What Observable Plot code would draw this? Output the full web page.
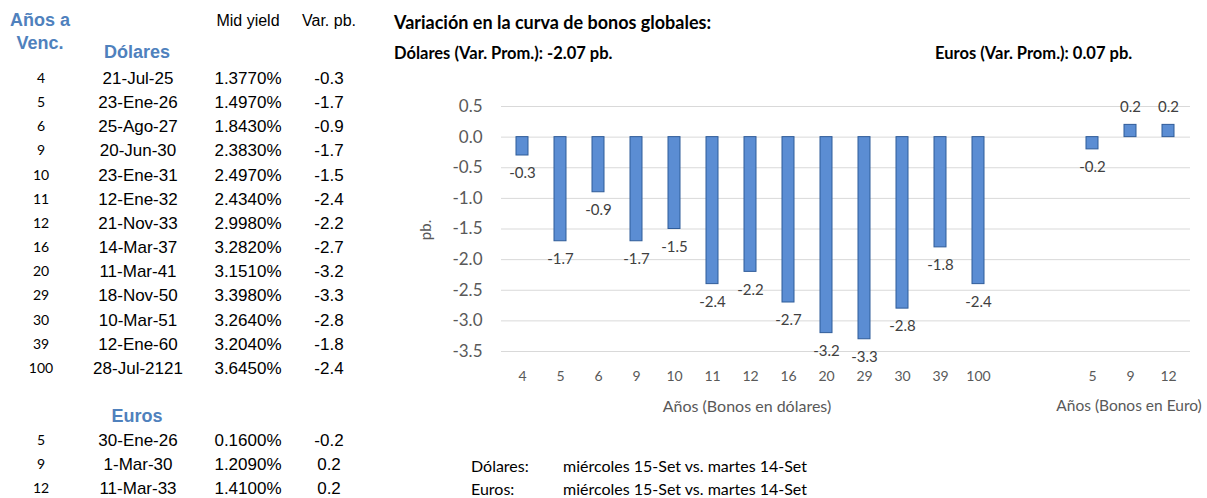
<!DOCTYPE html>
<html>
<head>
<meta charset="utf-8">
<script src="https://cdn.jsdelivr.net/npm/d3@7"></script>
<script src="https://cdn.jsdelivr.net/npm/@observablehq/plot@0.6"></script>
<style>
  html, body { margin: 0; padding: 0; background: #fff; }
  #page { position: relative; width: 1207px; height: 498px; overflow: hidden; background: #fff; }
  .t { position: absolute; white-space: nowrap; transform: translate(-50%, -50%); line-height: 1; }
  .l { position: absolute; white-space: nowrap; transform: translate(0, -50%); line-height: 1; }
  .arial { font-family: "Liberation Sans", Arial, sans-serif; font-size: 17px; color: #000; }
  .hdr { font-family: "Liberation Sans", Arial, sans-serif; font-size: 16px; color: #000; }
  .cal { font-family: Lato, "Open Sans", sans-serif; }
  .blue { color: #4F81BD; font-weight: bold; font-family: "Liberation Sans", Arial, sans-serif; font-size: 18px; }
  #chart { position: absolute; left: 390px; top: 60px; }
</style>
</head>
<body>
<div id="page"></div>
<script>
// ---- Data ----
const usdYears = [4, 5, 6, 9, 10, 11, 12, 16, 20, 29, 30, 39, 100];
const usdDates = ["21-Jul-25", "23-Ene-26", "25-Ago-27", "20-Jun-30", "23-Ene-31", "12-Ene-32", "21-Nov-33", "14-Mar-37", "11-Mar-41", "18-Nov-50", "10-Mar-51", "12-Ene-60", "28-Jul-2121"];
const usdYields = ["1.3770%", "1.4970%", "1.8430%", "2.3830%", "2.4970%", "2.4340%", "2.9980%", "3.2820%", "3.1510%", "3.3980%", "3.2640%", "3.2040%", "3.6450%"];
const usdVar = [-0.3, -1.7, -0.9, -1.7, -1.5, -2.4, -2.2, -2.7, -3.2, -3.3, -2.8, -1.8, -2.4];

const eurYears = [5, 9, 12];
const eurDates = ["30-Ene-26", "1-Mar-30", "11-Mar-33"];
const eurYields = ["0.1600%", "1.2090%", "1.4100%"];
const eurVar = [-0.2, 0.2, 0.2];

const yTicks = [0.5, 0, -0.5, -1, -1.5, -2, -2.5, -3, -3.5];
const gapSlots = ["gap1", "gap2"];

const titleText = "Variación en la curva de bonos globales:";
const usdAvgText = "Dólares (Var. Prom.): -2.07 pb.";
const eurAvgText = "Euros (Var. Prom.): 0.07 pb.";
const noteLabels = ["Dólares:", "Euros:"];
const noteTexts = ["miércoles 15-Set vs. martes 14-Set", "miércoles 15-Set vs. martes 14-Set"];

// ---- Helpers ----
const page = document.getElementById("page");
function put(text, x, y, cls, anchor = "t", extra = "") {
  const d = document.createElement("div");
  d.className = anchor + " " + cls;
  d.style.left = x + "px";
  d.style.top = y + "px";
  if (extra) d.style.cssText += extra;
  d.textContent = text;
  page.appendChild(d);
  return d;
}

// ---- Table ----
const colYear = 41, colDate = 138, colYield = 248, colVar = 329;
put("Años a", 40, 20, "blue");
put("Venc.", 40, 43, "blue");
put("Dólares", 137, 52, "blue");
put("Mid yield", colYield, 21, "hdr");
put("Var. pb.", colVar, 21, "hdr");
usdYears.forEach((yr, i) => {
  const y = 78 + i * 24.15;
  put(String(yr), colYear, y, "cal", "t", "font-size:14px;color:#000;");
  put(usdDates[i], colDate, y, "arial");
  put(usdYields[i], colYield, y, "arial");
  put(usdVar[i].toFixed(1), colVar, y, "arial");
});
put("Euros", 137, 416, "blue");
eurYears.forEach((yr, i) => {
  const y = 440 + i * 24;
  put(String(yr), colYear, y, "cal", "t", "font-size:14px;color:#000;");
  put(eurDates[i], colDate, y, "arial");
  put(eurYields[i], colYield, y, "arial");
  put(eurVar[i].toFixed(1), colVar, y, "arial");
});

// ---- Chart titles & notes ----
put(titleText, 394, 22, "cal", "l", "font-size:18px;font-weight:bold;color:#000;");
put(usdAvgText, 394, 53, "cal", "l", "font-size:16.5px;font-weight:bold;color:#000;");
put(eurAvgText, 935, 53, "cal", "l", "font-size:16.5px;font-weight:bold;color:#000;");
put(noteLabels[0], 471, 466, "cal", "l", "font-size:16px;color:#000;");
put(noteTexts[0], 563, 466, "cal", "l", "font-size:16px;color:#000;");
put(noteLabels[1], 471, 489, "cal", "l", "font-size:16px;color:#000;");
put(noteTexts[1], 563, 489, "cal", "l", "font-size:16px;color:#000;");

// ---- Chart ----
const rows = [
  ...usdYears.map((yr, i) => ({key: "USD " + yr, label: String(yr), v: usdVar[i]})),
  ...eurYears.map((yr, i) => ({key: "EUR " + yr, label: String(yr), v: eurVar[i]}))
];
const slots = [...usdYears.map(y => "USD " + y), ...gapSlots, ...eurYears.map(y => "EUR " + y)];
const tickLabel = new Map(rows.map(d => [d.key, d.label]));

const chart = Plot.plot({
  width: 817,
  height: 380,
  marginLeft: 111,
  marginRight: 17,
  marginTop: 46,
  marginBottom: 89,
  style: {fontFamily: "Lato, sans-serif", background: "transparent", color: "#595959", overflow: "visible"},
  x: {type: "band", domain: slots, paddingInner: 0.674, paddingOuter: 0.337, align: 0.5},
  y: {domain: [-3.5, 0.5]},
  marks: [
    Plot.ruleY(yTicks, {stroke: "#d9d9d9", strokeWidth: 1}),
    Plot.barY(rows, {x: "key", y: "v", fill: "#5B8DD3", stroke: "#2F5C99", strokeWidth: 1}),
    Plot.text(rows.filter(d => d.v < 0), {x: "key", y: "v", text: d => d.v.toFixed(1), dy: 18, fontSize: 15, fill: "#404040"}),
    Plot.text(rows.filter(d => d.v >= 0), {x: "key", y: "v", text: d => d.v.toFixed(1), dy: -18, fontSize: 15, fill: "#404040"}),
    Plot.axisY(yTicks, {tickSize: 0, tickPadding: 19, tickFormat: d => d.toFixed(1), fontSize: 17, label: null, fill: "#595959"}),
    Plot.axisX({tickSize: 0, tickPadding: 20, tickFormat: k => tickLabel.get(k) || "", fontSize: 14, label: null, fill: "#595959"})
  ]
});
chart.id = "chart";
page.appendChild(chart);

// Axis titles
put("pb.", 425, 230, "cal", "t", "font-size:15px;color:#595959;transform:translate(-50%,-50%) rotate(-90deg);");
put("Años (Bonos en dólares)", 747, 406, "cal", "t", "font-size:16px;color:#595959;");
put("Años (Bonos en Euro)", 1129, 406, "cal", "t", "font-size:15.5px;color:#595959;");
</script>
</body>
</html>
